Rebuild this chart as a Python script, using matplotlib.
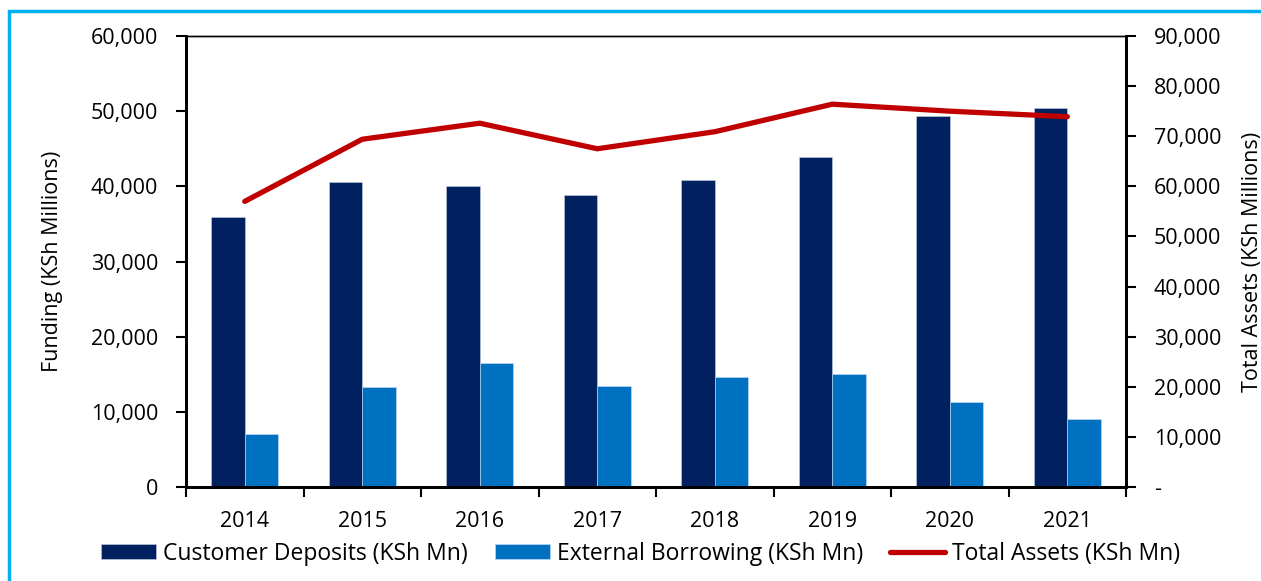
import numpy as np
import matplotlib.pyplot as plt
from matplotlib.patches import Rectangle
from matplotlib.ticker import FuncFormatter, MultipleLocator

years = ['2014', '2015', '2016', '2017', '2018', '2019', '2020', '2021']
deposits = [35900, 40600, 40100, 38900, 40900, 43900, 49300, 50400]
borrowing = [7000, 13300, 16500, 13400, 14600, 15000, 11300, 9100]
total_assets = [57000, 69400, 72600, 67500, 70900, 76400, 75000, 73900]

plt.rcParams['font.family'] = ['Open Sans', 'DejaVu Sans']
plt.rcParams['font.size'] = 15.5

fig = plt.figure(figsize=(12.61, 5.81), dpi=100)
ax = fig.add_axes([0.1475, 0.1618, 0.7455, 0.7762])
ax2 = ax.twinx()

x = np.arange(len(years))
w = 0.285
ax.bar(x - w / 2, deposits, w, color='#002060', edgecolor='#c8d0e0', linewidth=0.4,
       label='Customer Deposits (KSh Mn)', zorder=2)
ax.bar(x + w / 2, borrowing, w, color='#0070C0', edgecolor='#c8e0f0', linewidth=0.4,
       label='External Borrowing (KSh Mn)', zorder=2)
ax2.plot(x, total_assets, color='#C00000', linewidth=3.8, solid_capstyle='round',
         label='Total Assets (KSh Mn)')

ax.set_xlim(-0.5, len(years) - 0.5)
ax.set_ylim(0, 60000)
ax2.set_ylim(0, 90000)
ax.yaxis.set_major_locator(MultipleLocator(10000))
ax2.yaxis.set_major_locator(MultipleLocator(10000))
ax.yaxis.set_major_formatter(FuncFormatter(lambda v, p: f'{v:,.0f}'))
ax2.yaxis.set_major_formatter(FuncFormatter(lambda v, p: '-' if v == 0 else f'{v:,.0f}'))

# ticks sit between the categories
ax.set_xticks(np.arange(-0.5, len(years), 1.0))
ax.set_xticklabels([])
ax.set_xticks(x, minor=True)
ax.set_xticklabels(years, minor=True)
ax.tick_params(axis='x', which='major', direction='out', length=7, width=1.5)
ax.tick_params(axis='x', which='minor', length=0, pad=17)
ax.tick_params(axis='y', direction='out', length=7, width=1.5, pad=13)
ax2.tick_params(axis='y', direction='out', length=7, width=1.5, pad=13)

for a in (ax, ax2):
    a.spines['left'].set_linewidth(2)
    a.spines['right'].set_linewidth(2)
    a.spines['bottom'].set_linewidth(2)
    a.spines['top'].set_linewidth(1)

ax.set_ylabel('Funding (KSh Millions)', labelpad=20)
ax2.set_ylabel('Total Assets (KSh Millions)', labelpad=15)

h1, l1 = ax.get_legend_handles_labels()
h2, l2 = ax2.get_legend_handles_labels()
fig.legend(h1 + h2, l1 + l2, loc='center', bbox_to_anchor=(0.508, 0.047), ncol=3,
           frameon=False, handlelength=2.4, handleheight=0.65, handletextpad=0.3,
           columnspacing=1.2, fontsize=16.5)

fig.patches.append(Rectangle((9 / 1261, -0.1), 1.2, 1 - 11 / 581 + 0.1,
                             transform=fig.transFigure, fill=False,
                             edgecolor='#00B0F0', linewidth=2.5))

fig.savefig('out.png', dpi=100)
